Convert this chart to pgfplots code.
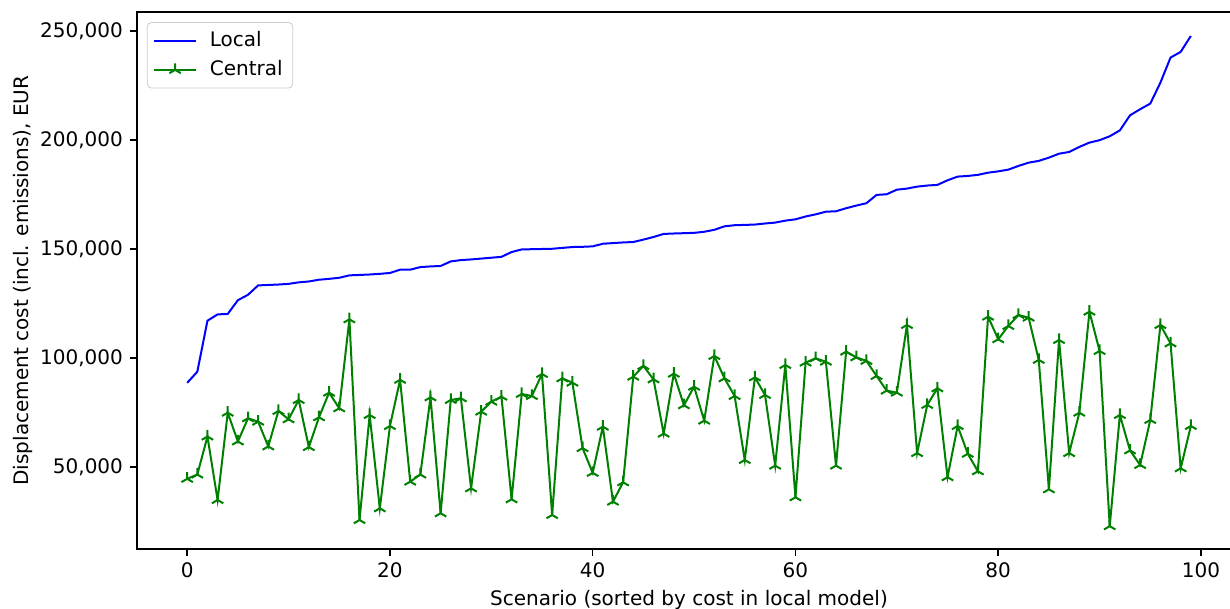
\documentclass[border=0pt]{standalone}
\usepackage{fontspec}
\setmainfont{DejaVu Sans}
\usepackage{pgfplots}
\pgfplotsset{compat=1.18}
\usepackage{pgfplotstable}
\pgfplotstableread{
x y
0 88600
1 93700
2 117100
3 120000
4 120200
5 126500
6 129000
7 133300
8 133500
9 133700
10 134000
11 134700
12 135100
13 135900
14 136300
15 136800
16 137900
17 138100
18 138300
19 138600
20 139000
21 140500
22 140500
23 141700
24 142000
25 142200
26 144300
27 144900
28 145200
29 145600
30 146000
31 146400
32 148600
33 149800
34 149900
35 150000
36 150100
37 150500
38 150900
39 151000
40 151200
41 152400
42 152700
43 153000
44 153200
45 154300
46 155500
47 156900
48 157100
49 157250
50 157400
51 157900
52 158800
53 160400
54 160900
55 161050
56 161200
57 161700
58 162100
59 163000
60 163600
61 164900
62 165900
63 167100
64 167300
65 168700
66 169900
67 171000
68 174800
69 175100
70 177200
71 177700
72 178600
73 179100
74 179400
75 181500
76 183200
77 183500
78 184000
79 185000
80 185600
81 186400
82 188100
83 189600
84 190400
85 191900
86 193700
87 194500
88 196800
89 198800
90 199900
91 201700
92 204400
93 211300
94 214100
95 216700
96 226300
97 237800
98 240400
99 247700
}\localtab
\pgfplotstableread{
x y
0 44580
1 46550
2 63980
3 34870
4 74910
5 61700
6 72340
7 70800
8 59430
9 75690
10 71880
11 80740
12 59130
13 72800
14 84100
15 76920
16 117740
17 25700
18 73860
19 31050
20 68810
21 90000
22 43280
23 46550
24 81960
25 28770
26 80740
27 81510
28 40220
29 75380
30 79970
31 82260
32 35190
33 83490
34 82570
35 92670
36 27990
37 90670
38 88690
39 58670
40 47310
41 68500
42 34110
43 42980
44 91430
45 96350
46 90210
47 65300
48 92800
49 78300
50 86840
51 71270
52 100930
53 90670
54 82570
55 53220
56 91120
57 83030
58 50630
59 96800
60 36100
61 97880
62 99860
63 98310
64 50630
65 102900
66 100310
67 98680
68 91750
69 85030
70 84100
71 115140
72 56380
73 78460
74 86080
75 45340
76 68810
77 56060
78 48030
79 118960
80 108590
81 114680
82 119730
83 118500
84 99140
85 39760
86 108260
87 56380
88 74910
89 121250
90 103220
91 22860
92 73860
93 57600
94 50930
95 71570
96 115140
97 106710
98 49410
99 68810
}\centraltab
\definecolor{mplgreen}{RGB}{0,128,0}
\begin{document}
\begin{tikzpicture}
\begin{axis}[
  name=ax,
  scale only axis,
  width=552pt, height=268.5pt,
  xmin=-4.95, xmax=103.95,
  ymin=12400, ymax=258700,
  xtick={0,20,40,60,80,100},
  ytick={50000,100000,150000,200000,250000},
  scaled y ticks=false,
  yticklabel style={/pgf/number format/.cd, fixed, 1000 sep={,}},
  /pgf/number format/assume math mode=true,
  tick align=outside,
  major tick length=3.5pt,
  xtick pos=bottom, ytick pos=left,
  axis line style={line width=0.8pt},
  every tick/.style={black, line width=0.8pt},
  tick label style={font=\fontsize{10}{12}\selectfont},
  label style={font=\fontsize{10}{12}\selectfont},
  xlabel={Scenario (sorted by cost in local model)},
  ylabel={Displacement cost (incl. emissions), EUR},
  xlabel style={at={(axis description cs:0.5,0)}, anchor=center, yshift=-25.5pt},
  ylabel style={at={(axis description cs:0,0.5)}, anchor=center, yshift=57pt},
  legend style={at={(axis description cs:0.009,0.981)}, anchor=north west,
    draw=black!20, rounded corners=2pt, font=\fontsize{10}{12}\selectfont,
    inner xsep=3pt, inner ysep=2.5pt, row sep=1.5pt, column sep=4.5pt},
  legend cell align=left,
  legend image code/.code={\draw[mark repeat=2,mark phase=2,#1] plot coordinates {(0cm,0cm) (0.365cm,0cm) (0.73cm,0cm)};},
]
\addplot[blue, line width=1pt, no markers] table[x=x,y=y] {\localtab};
\addlegendentry{Local}
\addplot[mplgreen, line width=1pt, mark=Mercedes star, mark size=3.3pt, mark options={line width=1pt}] table[x=x,y=y] {\centraltab};
\addlegendentry{Central}
\end{axis}
\pgfresetboundingbox
\path ([xshift=-68.5pt,yshift=-30pt]ax.south west) rectangle ([xshift=-5.5pt,yshift=6pt]ax.north east);
\end{tikzpicture}
\end{document}
